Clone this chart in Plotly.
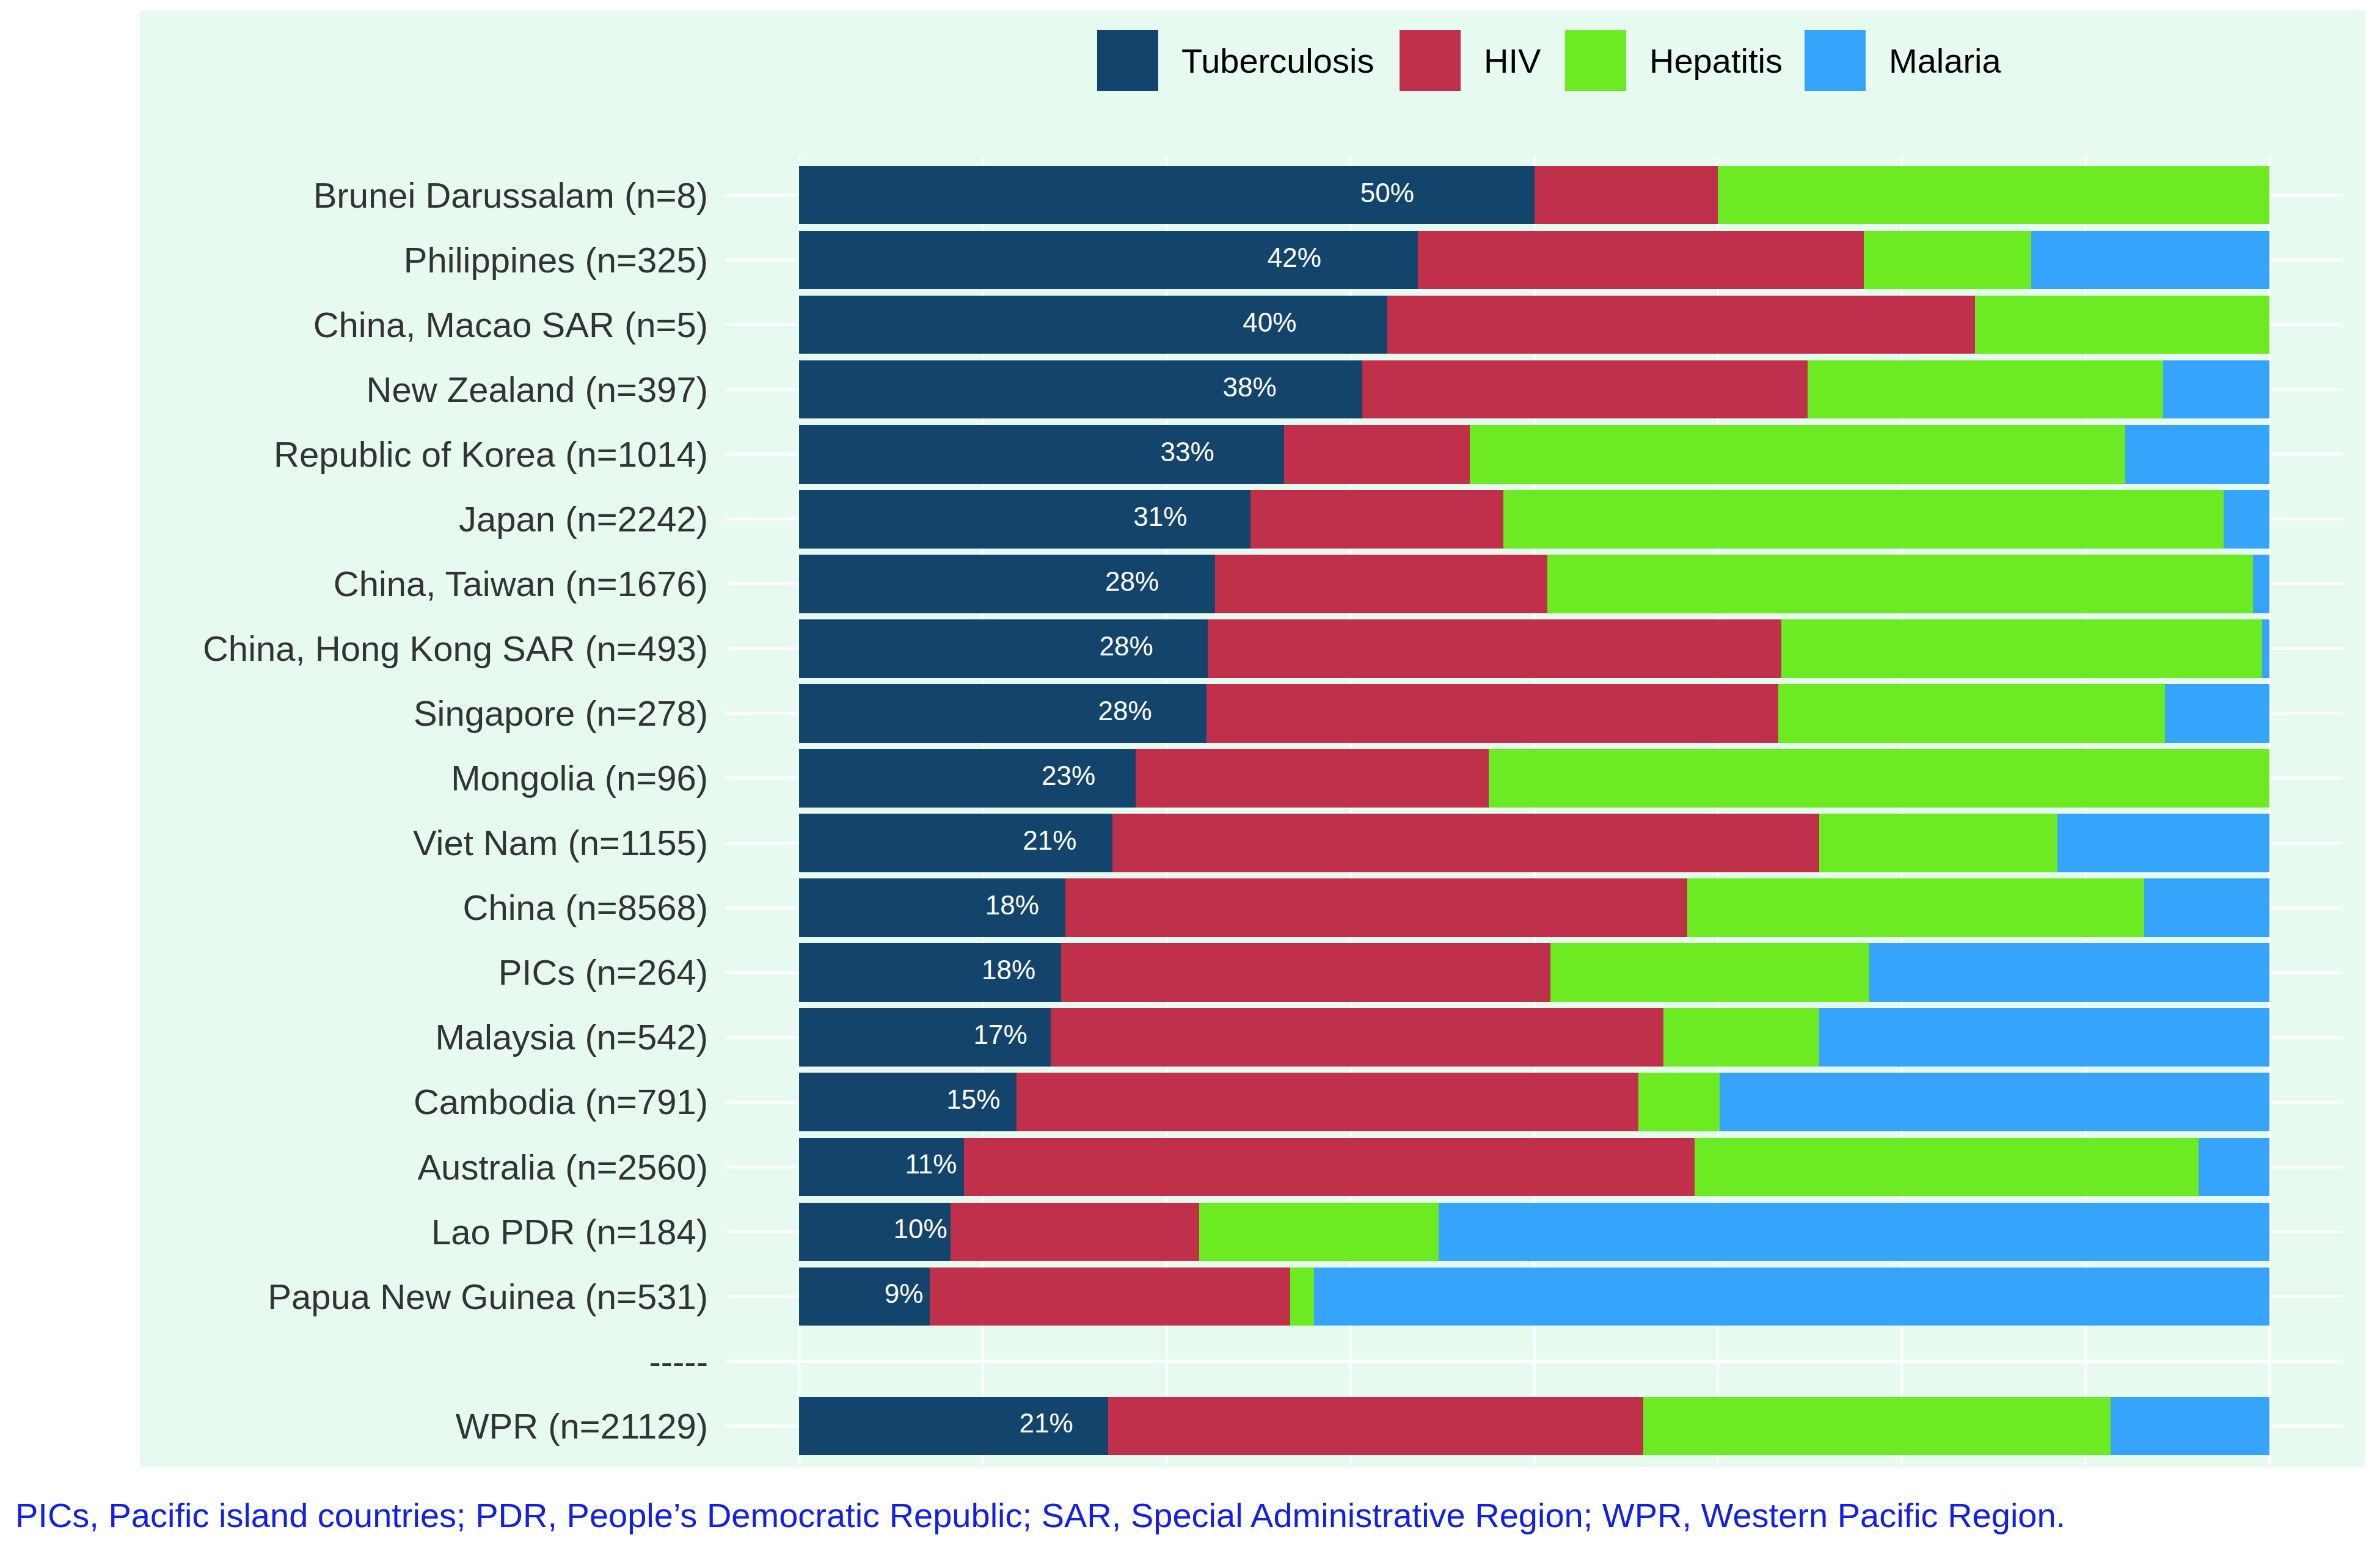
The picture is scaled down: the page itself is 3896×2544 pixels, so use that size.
import plotly.graph_objects as go

# ---------------- data (percent of cases) ----------------
categories = [
    "Brunei Darussalam (n=8)", "Philippines (n=325)", "China, Macao SAR (n=5)",
    "New Zealand (n=397)", "Republic of Korea (n=1014)", "Japan (n=2242)",
    "China, Taiwan (n=1676)", "China, Hong Kong SAR (n=493)", "Singapore (n=278)",
    "Mongolia (n=96)", "Viet Nam (n=1155)", "China (n=8568)", "PICs (n=264)",
    "Malaysia (n=542)", "Cambodia (n=791)", "Australia (n=2560)", "Lao PDR (n=184)",
    "Papua New Guinea (n=531)", "-----", "WPR (n=21129)",
]
tuberculosis = [50.0, 42.1, 40.0, 38.3, 33.0, 30.7, 28.3, 27.8, 27.7, 22.9,
                21.3, 18.1, 17.8, 17.1, 14.8, 11.2, 10.3, 8.9, None, 21.0]
hiv = [12.5, 30.3, 40.0, 30.3, 12.6, 17.2, 22.6, 39.0, 38.9, 24.0,
       48.1, 42.3, 33.3, 41.7, 42.3, 49.7, 16.9, 24.5, None, 36.4]
hepatitis = [37.5, 11.4, 20.0, 24.2, 44.6, 49.0, 48.0, 32.7, 26.3, 53.1,
             16.2, 31.1, 21.7, 10.6, 5.5, 34.3, 16.3, 1.6, None, 31.8]
malaria = [0.0, 16.2, 0.0, 7.2, 9.8, 3.1, 1.1, 0.5, 7.1, 0.0,
           14.4, 8.5, 27.2, 30.6, 37.4, 4.8, 56.5, 65.0, None, 10.8]

series_names = ["Tuberculosis", "HIV", "Hepatitis", "Malaria"]
series_colors = ["#13446C", "#C1304A", "#6CEB23", "#36A4FA"]
footnote = ("PICs, Pacific island countries; PDR, People\u2019s Democratic Republic; "
            "SAR, Special Administrative Region; WPR, Western Pacific Region.")

# ---------------- layout geometry (page pixels; page body has 8px margin) ----------------
OFF = 8
W, H = 3896 - 2 * OFF, 2544 - 2 * OFF
PANEL_L, PANEL_R, PANEL_T, PANEL_B = 1188, 3835, 256, 2398
L = PANEL_L - OFF
T = PANEL_T - OFF
R = W - (PANEL_R - OFF)
B = H - (PANEL_B - OFF)
PW, PH = W - L - R, H - T - B


def px_x(p):
    return (p - OFF - L) / PW


def px_y(p):
    return (H - B - (p - OFF)) / PH


FONT = "Liberation Sans, Arial, Helvetica, sans-serif"
MINT = "#E6FAF0"

fig = go.Figure()

all_series = [tuberculosis, hiv, hepatitis, malaria]
for name, vals, col in zip(series_names, all_series, series_colors):
    fig.add_trace(go.Bar(
        y=categories,
        x=[None if v is None else v / 100 for v in vals],
        name=name,
        orientation="h",
        marker=dict(color=col, line=dict(width=0)),
        width=0.9,
        showlegend=False,
        hoverinfo="x+name",
    ))

# percentage labels for tuberculosis
lab_x, lab_y, lab_t = [], [], []
for c, v in zip(categories, tuberculosis):
    if v is None:
        continue
    lab_x.append(0.8 * v / 100)
    lab_y.append(c)
    lab_t.append(f"{round(v)}%")
fig.add_trace(go.Scatter(
    x=lab_x, y=lab_y, text=lab_t, mode="text",
    textposition="middle center",
    textfont=dict(family=FONT, size=44, color="white"),
    showlegend=False, hoverinfo="skip",
))

shapes = [
    # mint plot background
    dict(type="rect", xref="paper", yref="paper", layer="below",
         x0=px_x(229), x1=px_x(3872), y0=px_y(2402), y1=px_y(17),
         fillcolor=MINT, line=dict(width=0)),
]
annotations = []

# legend (drawn manually to reproduce the large square keys)
key_x0 = [1796, 2291, 2562, 2954]
for name, col, kx in zip(series_names, series_colors, key_x0):
    shapes.append(dict(type="rect", xref="paper", yref="paper",
                       x0=px_x(kx), x1=px_x(kx + 100),
                       y0=px_y(149), y1=px_y(49),
                       fillcolor=col, line=dict(width=0)))
    annotations.append(dict(text=name, xref="paper", yref="paper",
                            x=px_x(kx + 136), y=px_y(99),
                            xanchor="left", yanchor="middle", showarrow=False,
                            font=dict(family=FONT, size=56, color="#000000")))

annotations.append(dict(text=footnote, xref="paper", yref="paper",
                        x=px_x(23), y=px_y(2480), xanchor="left", yanchor="middle",
                        showarrow=False,
                        font=dict(family=FONT, size=56, color="#1420E0")))

fig.update_layout(
    width=W, height=H,
    margin=dict(l=L, r=R, t=T, b=B, autoexpand=False),
    paper_bgcolor="white",
    plot_bgcolor=MINT,
    barmode="stack",
    bargap=0.1,
    shapes=shapes,
    annotations=annotations,
    font=dict(family=FONT),
    xaxis=dict(range=[-0.05, 1.05], dtick=0.125, tick0=0,
               showgrid=True, gridcolor="white", gridwidth=4,
               showticklabels=False, zeroline=False, showline=False, ticks=""),
    yaxis=dict(type="category", categoryorder="array", categoryarray=categories,
               range=[len(categories) - 0.4, -0.6],
               showgrid=True, gridcolor="white", gridwidth=5,
               ticks="", ticklabelstandoff=28, zeroline=False, showline=False,
               tickfont=dict(family=FONT, size=58, color="#333333")),
)

fig.write_html("out.html")
